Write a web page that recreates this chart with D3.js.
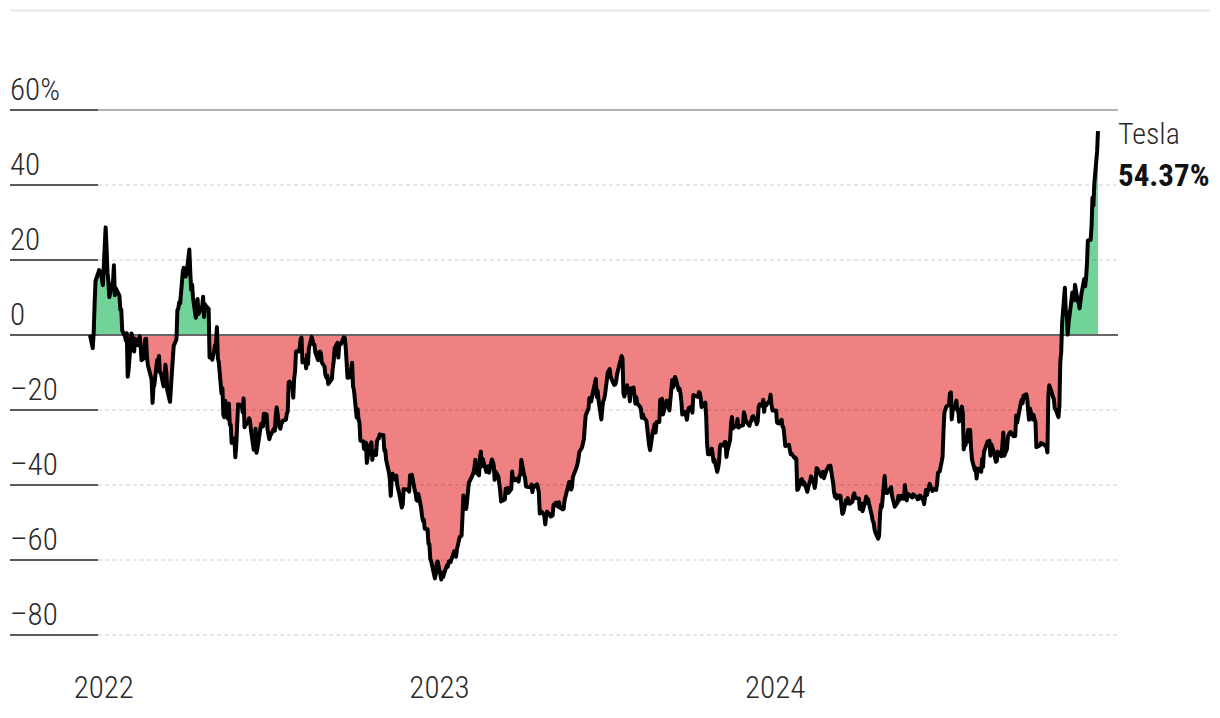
<!DOCTYPE html>
<html>
<head>
<meta charset="utf-8">
<script src="https://cdn.jsdelivr.net/npm/d3@7"></script>
<style>
  body { margin: 0; background: #fff; }
  svg text { font-family: "Liberation Sans Narrow", "Roboto Condensed", "DejaVu Sans Condensed", sans-serif; }
</style>
</head>
<body>
<div id="chart"></div>
<script>
// Tesla share price, % change since 17 Dec 2021 ([MM-DD, %])
const y2021 = [["12-17",0],["12-20",-3.5],["12-21",0.6],["12-22",8.2],["12-23",14.4],["12-27",17.3],["12-28",16.7],["12-29",16.5],["12-30",14.8],["12-31",13.3]];

const y2022 = [
  ["01-03",28.7],["01-04",23.3],["01-05",16.7],["01-06",14.2],["01-07",10.1],["01-10",13.5],["01-11",14.1],["01-12",18.6],["01-13",10.6],["01-14",12.5],["01-18",10.5],["01-19",6.8],["01-20",6.8],["01-21",1.2],["01-24",-0.3],["01-25",-1.5],["01-26",0.5],["01-27",-11.1],["01-28",-9.2],["01-31",0.4],
  ["02-01",-0.1],["02-02",-2.9],["02-03",-4.4],["02-04",-1.0],["02-07",-2.7],["02-08",-1.6],["02-09",-0.3],["02-10",-2.6],["02-11",-6.7],["02-14",-6.1],["02-15",-1.1],["02-16",-1.0],["02-17",-6.0],["02-18",-8.1],["02-22",-11.9],["02-23",-18.1],["02-24",-14.1],["02-25",-13.2],["02-28",-6.7],
  ["03-01",-7.3],["03-02",-5.6],["03-03",-10.0],["03-04",-10.1],["03-07",-13.7],["03-08",-11.6],["03-09",-7.9],["03-10",-9.9],["03-11",-14.7],["03-14",-17.8],["03-15",-14.0],["03-16",-10.1],["03-17",-6.5],["03-18",-2.9],["03-21",-1.2],["03-22",6.6],["03-23",7.1],["03-24",8.7],["03-25",8.4],["03-28",17.1],["03-29",17.9],["03-30",17.3],["03-31",15.6],
  ["04-01",16.3],["04-04",22.8],["04-05",17.0],["04-06",12.1],["04-07",13.4],["04-08",10.0],["04-11",4.6],["04-12",5.8],["04-13",9.6],["04-14",5.6],["04-18",7.7],["04-19",10.2],["04-20",4.8],["04-21",8.2],["04-22",7.8],["04-25",7.0],["04-26",-6.0],["04-27",-5.5],["04-28",-5.9],["04-29",-6.6],
  ["05-02",-2.7],["05-03",-2.3],["05-04",2.1],["05-05",-6.2],["05-06",-7.2],["05-09",-15.6],["05-10",-14.2],["05-11",-21.3],["05-12",-21.9],["05-13",-17.5],["05-16",-22.3],["05-17",-18.3],["05-18",-23.9],["05-19",-23.9],["05-20",-28.8],["05-23",-27.6],["05-24",-32.6],["05-25",-29.4],["05-26",-24.1],["05-27",-18.5],["05-31",-18.7],
  ["06-01",-20.6],["06-02",-16.9],["06-03",-24.6],["06-06",-23.3],["06-07",-23.2],["06-08",-22.2],["06-09",-22.9],["06-10",-25.3],["06-13",-30.6],["06-14",-28.9],["06-15",-25.0],["06-16",-31.4],["06-17",-30.3],["06-21",-23.7],["06-22",-24.1],["06-23",-24.4],["06-24",-21.0],["06-27",-21.2],["06-28",-25.2],["06-29",-26.5],["06-30",-27.8],
  ["07-01",-26.9],["07-05",-25.0],["07-06",-25.5],["07-07",-21.3],["07-08",-19.3],["07-11",-24.6],["07-12",-25.0],["07-13",-23.7],["07-14",-23.3],["07-15",-22.8],["07-18",-22.6],["07-19",-21.0],["07-20",-20.4],["07-21",-12.6],["07-22",-12.4],["07-25",-13.6],["07-26",-16.7],["07-27",-11.6],["07-28",-9.6],["07-29",-4.4],
  ["08-01",-4.4],["08-02",-3.3],["08-03",-1.1],["08-04",-0.7],["08-05",-7.3],["08-08",-6.6],["08-09",-8.9],["08-10",-5.3],["08-11",-7.8],["08-12",-3.5],["08-15",-0.5],["08-16",-1.4],["08-17",-2.5],["08-18",-2.5],["08-19",-4.6],["08-22",-6.7],["08-23",-4.6],["08-24",-4.4],["08-25",-4.8],["08-26",-7.3],["08-29",-8.4],["08-30",-10.7],["08-31",-11.3],
  ["09-01",-10.8],["09-02",-13.1],["09-06",-11.7],["09-07",-8.7],["09-08",-6.9],["09-09",-3.6],["09-12",-2.1],["09-13",-6.0],["09-14",-2.7],["09-15",-2.3],["09-16",-2.4],["09-19",-0.6],["09-20",-0.7],["09-21",-3.2],["09-22",-7.2],["09-23",-11.4],["09-26",-11.2],["09-27",-9.0],["09-28",-7.4],["09-29",-13.7],["09-30",-14.7],
  ["10-03",-22.0],["10-04",-19.8],["10-05",-22.5],["10-06",-23.4],["10-07",-28.2],["10-10",-28.3],["10-11",-30.4],["10-12",-30.1],["10-13",-28.7],["10-14",-34.1],["10-17",-29.4],["10-18",-29.2],["10-19",-28.6],["10-20",-33.3],["10-21",-31.0],["10-24",-32.0],["10-25",-28.4],["10-26",-27.7],["10-27",-27.6],["10-28",-26.5],["10-31",-26.8],
  ["11-01",-26.7],["11-02",-30.8],["11-03",-30.7],["11-04",-33.3],["11-07",-36.6],["11-08",-38.5],["11-09",-42.9],["11-10",-38.6],["11-11",-37.0],["11-14",-38.6],["11-15",-37.5],["11-16",-39.9],["11-17",-41.1],["11-18",-42.0],["11-21",-46.0],["11-22",-45.3],["11-23",-41.1],["11-25",-41.2],["11-28",-41.2],["11-29",-41.8],["11-30",-37.4],
  ["12-01",-37.4],["12-02",-37.3],["12-05",-41.3],["12-06",-42.2],["12-07",-44.0],["12-08",-44.2],["12-09",-42.4],["12-12",-46.0],["12-13",-48.2],["12-14",-49.6],["12-15",-49.3],["12-16",-51.7],["12-19",-51.8],["12-20",-55.7],["12-21",-55.7],["12-22",-59.7],["12-23",-60.4],["12-27",-64.9],["12-28",-63.7],["12-29",-60.8],["12-30",-60.4]
];

const y2023 = [
  ["01-03",-65.2],["01-04",-63.4],["01-05",-64.5],["01-06",-63.6],["01-09",-61.5],["01-10",-61.8],["01-11",-60.4],["01-12",-60.3],["01-13",-60.6],["01-17",-57.7],["01-18",-58.6],["01-19",-59.1],["01-20",-57.1],["01-23",-53.8],["01-24",-53.7],["01-25",-53.5],["01-26",-48.4],["01-27",-42.8],["01-30",-46.4],["01-31",-44.3],
  ["02-01",-41.6],["02-02",-39.4],["02-03",-38.9],["02-06",-37.3],["02-07",-36.7],["02-08",-35.2],["02-09",-33.3],["02-10",-36.7],["02-13",-37.4],["02-14",-32.7],["02-15",-31.1],["02-16",-35.0],["02-17",-33.0],["02-21",-36.5],["02-22",-35.4],["02-23",-35.0],["02-24",-36.7],["02-27",-33.2],["02-28",-33.8],
  ["03-01",-34.8],["03-02",-38.6],["03-03",-36.4],["03-06",-37.7],["03-07",-39.6],["03-08",-41.5],["03-09",-44.4],["03-10",-44.2],["03-13",-43.9],["03-14",-41.0],["03-15",-42.0],["03-16",-40.8],["03-17",-42.1],["03-20",-41.1],["03-21",-36.4],["03-22",-38.5],["03-23",-38.2],["03-24",-38.7],["03-27",-38.3],["03-28",-39.1],["03-29",-37.6],["03-30",-37.2],["03-31",-33.3],
  ["04-03",-37.3],["04-04",-38.0],["04-05",-40.3],["04-06",-40.5],["04-10",-40.6],["04-11",-39.9],["04-12",-41.9],["04-13",-40.2],["04-14",-40.5],["04-17",-39.8],["04-18",-40.7],["04-19",-41.9],["04-20",-47.6],["04-21",-46.9],["04-24",-47.7],["04-25",-48.3],["04-26",-50.5],["04-27",-48.5],["04-28",-47.1],
  ["05-01",-47.9],["05-02",-48.4],["05-03",-48.3],["05-04",-48.1],["05-05",-45.3],["05-08",-44.7],["05-09",-45.6],["05-10",-45.8],["05-11",-44.6],["05-12",-46.0],["05-15",-46.5],["05-16",-46.4],["05-17",-44.1],["05-18",-43.1],["05-19",-42.1],["05-22",-39.2],["05-23",-40.2],["05-24",-41.2],["05-25",-40.7],["05-26",-37.9],["05-30",-35.3],["05-31",-34.4],
  ["06-01",-33.2],["06-02",-31.2],["06-05",-30.0],["06-06",-28.8],["06-07",-27.8],["06-08",-24.4],["06-09",-21.4],["06-12",-19.6],["06-13",-16.8],["06-14",-17.4],["06-15",-17.7],["06-16",-16.2],["06-20",-11.7],["06-21",-16.5],["06-22",-14.9],["06-23",-17.5],["06-26",-22.5],["06-27",-19.5],["06-28",-17.6],["06-29",-17.2],["06-30",-15.8],
  ["07-03",-10.0],["07-05",-9.1],["07-06",-11.0],["07-07",-11.7],["07-10",-13.3],["07-11",-13.2],["07-12",-12.5],["07-13",-10.6],["07-14",-9.5],["07-17",-6.6],["07-18",-5.6],["07-19",-6.3],["07-20",-15.4],["07-21",-16.4],["07-24",-13.4],["07-25",-14.7],["07-26",-15.0],["07-27",-17.7],["07-28",-14.3],["07-31",-14.0],
  ["08-01",-16.0],["08-02",-18.3],["08-03",-16.6],["08-04",-18.3],["08-07",-19.1],["08-08",-19.7],["08-09",-22.1],["08-10",-21.1],["08-11",-21.9],["08-14",-22.9],["08-15",-25.1],["08-16",-27.4],["08-17",-29.5],["08-18",-30.7],["08-21",-25.6],["08-22",-25.0],["08-23",-23.8],["08-24",-26.0],["08-25",-23.2],["08-28",-23.2],["08-29",-17.3],["08-30",-17.4],["08-31",-17.0],
  ["09-01",-21.2],["09-05",-17.5],["09-06",-19.0],["09-07",-19.1],["09-08",-20.1],["09-11",-12.0],["09-12",-14.0],["09-13",-12.7],["09-14",-11.2],["09-15",-11.7],["09-18",-14.7],["09-19",-14.3],["09-20",-15.5],["09-21",-17.7],["09-22",-21.2],["09-25",-20.5],["09-26",-21.5],["09-27",-22.6],["09-28",-20.7],["09-29",-19.5],
  ["10-02",-19.1],["10-03",-20.7],["10-04",-16.0],["10-05",-16.3],["10-06",-16.2],["10-09",-16.5],["10-10",-15.2],["10-11",-15.4],["10-12",-16.7],["10-13",-19.2],["10-16",-18.3],["10-17",-18.0],["10-18",-21.9],["10-19",-29.2],["10-20",-31.8],["10-23",-31.8],["10-24",-30.3],["10-25",-31.7],["10-26",-33.8],["10-27",-33.3],["10-30",-36.5],["10-31",-35.4],
  ["11-01",-33.8],["11-02",-29.7],["11-03",-29.2],["11-06",-29.5],["11-07",-28.5],["11-08",-28.5],["11-09",-32.5],["11-10",-30.9],["11-13",-28.0],["11-14",-23.6],["11-15",-21.9],["11-16",-24.9],["11-17",-24.6],["11-20",-24.2],["11-21",-22.4],["11-22",-24.7],["11-24",-24.3],["11-27",-24.1],["11-28",-20.6],["11-29",-21.5],["11-30",-22.8],
  ["12-01",-23.2],["12-04",-24.2],["12-05",-23.2],["12-06",-23.0],["12-07",-21.9],["12-08",-21.6],["12-11",-22.9],["12-12",-23.8],["12-13",-23.0],["12-14",-19.2],["12-15",-18.5],["12-18",-18.9],["12-19",-17.3],["12-20",-20.5],["12-21",-18.1],["12-22",-18.8],["12-26",-17.5],["12-27",-15.9],["12-28",-18.6],["12-29",-20.1]
];

const y2024 = [
  ["01-02",-20.1],["01-03",-23.3],["01-04",-23.5],["01-05",-23.6],["01-08",-22.6],["01-09",-24.4],["01-10",-24.7],["01-11",-26.9],["01-12",-29.6],["01-16",-29.3],["01-17",-30.7],["01-18",-31.8],["01-19",-31.7],["01-22",-32.8],["01-23",-32.7],["01-24",-33.1],["01-25",-41.3],["01-26",-41.1],["01-29",-38.6],["01-30",-38.4],["01-31",-39.8],
  ["02-01",-39.2],["02-02",-39.6],["02-05",-41.8],["02-06",-40.5],["02-07",-39.7],["02-08",-39.0],["02-09",-37.7],["02-12",-39.5],["02-13",-40.8],["02-14",-39.3],["02-15",-35.5],["02-16",-35.7],["02-20",-37.7],["02-21",-37.3],["02-22",-36.5],["02-23",-38.2],["02-26",-35.9],["02-27",-35.7],["02-28",-35.0],["02-29",-35.1],
  ["03-01",-34.8],["03-04",-39.5],["03-05",-41.9],["03-06",-43.2],["03-07",-42.5],["03-08",-43.6],["03-11",-42.8],["03-12",-42.9],["03-13",-45.5],["03-14",-47.7],["03-15",-47.4],["03-18",-44.1],["03-19",-44.9],["03-20",-43.5],["03-21",-44.4],["03-22",-45.0],["03-25",-44.5],["03-26",-42.8],["03-27",-42.2],["03-28",-43.5],
  ["04-01",-43.6],["04-02",-46.4],["04-03",-45.8],["04-04",-45.0],["04-05",-47.0],["04-08",-44.4],["04-09",-43.1],["04-10",-44.7],["04-11",-43.8],["04-12",-45.0],["04-15",-48.1],["04-16",-49.5],["04-17",-50.0],["04-18",-51.8],["04-19",-52.7],["04-22",-54.3],["04-23",-53.5],["04-24",-47.8],["04-25",-45.3],["04-26",-45.9],["04-29",-37.6],["04-30",-41.0],
  ["05-01",-42.1],["05-02",-42.1],["05-03",-41.7],["05-06",-40.6],["05-07",-42.8],["05-08",-43.8],["05-09",-44.7],["05-10",-45.8],["05-13",-44.7],["05-14",-42.9],["05-15",-44.0],["05-16",-43.8],["05-17",-42.9],["05-20",-43.7],["05-21",-40.0],["05-22",-42.1],["05-23",-44.1],["05-24",-42.3],["05-28",-43.1],["05-29",-43.3],["05-30",-42.5],["05-31",-42.7],
  ["06-03",-43.3],["06-04",-43.8],["06-05",-43.7],["06-06",-42.8],["06-07",-42.9],["06-10",-44.1],["06-11",-45.1],["06-12",-43.0],["06-13",-41.3],["06-14",-42.7],["06-17",-39.7],["06-18",-40.5],["06-20",-41.6],["06-21",-41.1],["06-24",-41.3],["06-25",-39.7],["06-26",-36.8],["06-27",-36.5],["06-28",-36.3],
  ["07-01",-32.5],["07-02",-25.6],["07-03",-20.7],["07-05",-19.1],["07-08",-18.6],["07-09",-15.6],["07-10",-15.3],["07-11",-22.5],["07-12",-20.1],["07-15",-18.7],["07-16",-17.5],["07-17",-20.1],["07-18",-19.8],["07-19",-23.1],["07-22",-19.1],["07-23",-20.7],["07-24",-30.5],["07-25",-29.1],["07-26",-29.3],["07-29",-25.3],["07-30",-28.4],["07-31",-25.3],
  ["08-01",-30.2],["08-02",-33.2],["08-05",-36.0],["08-06",-35.5],["08-07",-38.3],["08-08",-36.0],["08-09",-35.7],["08-12",-36.5],["08-13",-33.1],["08-14",-35.2],["08-15",-31.1],["08-16",-30.5],["08-19",-28.4],["08-20",-28.9],["08-21",-28.2],["08-22",-32.2],["08-23",-29.1],["08-26",-31.4],["08-27",-32.7],["08-28",-33.8],["08-29",-33.6],["08-30",-31.1],
  ["09-03",-32.3],["09-04",-29.4],["09-05",-26.0],["09-06",-32.2],["09-09",-30.4],["09-10",-27.2],["09-11",-26.6],["09-12",-26.1],["09-13",-25.9],["09-16",-27.0],["09-17",-26.7],["09-18",-26.9],["09-19",-21.5],["09-20",-23.4],["09-23",-19.6],["09-24",-18.2],["09-25",-17.3],["09-26",-18.2],["09-27",-16.2],["09-30",-15.8],
  ["10-01",-17.0],["10-02",-19.9],["10-03",-22.6],["10-04",-19.6],["10-07",-22.5],["10-08",-21.3],["10-09",-22.5],["10-10",-23.2],["10-11",-29.9],["10-14",-29.5],["10-15",-29.4],["10-16",-28.8],["10-17",-28.9],["10-18",-29.0],["10-21",-29.6],["10-22",-29.9],["10-23",-31.3],["10-24",-16.2],["10-25",-13.4],["10-28",-15.6],["10-29",-16.5],["10-30",-17.1],["10-31",-19.6],
  ["11-01",-19.9],["11-04",-21.9],["11-05",-19.1],["11-06",-7.2],["11-07",-4.5],["11-08",3.3],["11-11",12.6],["11-12",5.7],["11-13",6.2],["11-14",0.1],["11-15",3.2],["11-18",9.0],["11-19",11.3],["11-20",10.0],["11-21",9.3],["11-22",13.4],["11-25",8.9],["11-26",8.8],["11-27",7.1],["11-29",11.0],
  ["12-02",14.9],["12-03",13.0],["12-04",15.1],["12-05",18.9],["12-06",25.2],["12-09",25.4],["12-10",29.0],["12-11",36.6],["12-12",34.5],["12-13",40.3],["12-16",48.9],["12-17",54.37]
];

const yTicks = [60, 40, 20, 0, -20, -40, -60, -80];
const yearTicks = ["2022", "2023", "2024"];
const seriesName = "Tesla";
const lastLabel = "54.37%";
const startDate = "2021-12-17";
const endDate = "2024-12-17";

const w = 1220;
const h = 718;
const labelX = 10;
const plotL = 98;
const plotR = 1118;

const parse = d3.timeParse("%Y-%m-%d");
const data = []
  .concat(y2021.map(r => ({ date: parse("2021-" + r[0]), v: r[1] })))
  .concat(y2022.map(r => ({ date: parse("2022-" + r[0]), v: r[1] })))
  .concat(y2023.map(r => ({ date: parse("2023-" + r[0]), v: r[1] })))
  .concat(y2024.map(r => ({ date: parse("2024-" + r[0]), v: r[1] })));

const x = d3.scaleTime()
  .domain([parse(startDate), parse(endDate)])
  .range([90, 1098]);

const y = d3.scaleLinear()
  .domain([-80, 60])
  .range([635, 110]);

const svg = d3.select("#chart")
  .append("svg")
  .attr("width", w)
  .attr("height", h);

// thin rule at the very top
svg.append("line")
  .attr("x1", 10).attr("x2", 1210)
  .attr("y1", 10.5).attr("y2", 10.5)
  .attr("stroke", "#e6e6e6")
  .attr("stroke-width", 2);

// clip above / below the zero line
const defs = svg.append("defs");
defs.append("clipPath").attr("id", "above")
  .append("rect").attr("x", 0).attr("y", 0).attr("width", w).attr("height", y(0));
defs.append("clipPath").attr("id", "below")
  .append("rect").attr("x", 0).attr("y", y(0)).attr("width", w).attr("height", h - y(0));

const area = d3.area()
  .x(d => x(d.date))
  .y0(y(0))
  .y1(d => y(d.v));

svg.append("path")
  .datum(data)
  .attr("d", area)
  .attr("fill", "#71d398")
  .attr("clip-path", "url(#above)");

svg.append("path")
  .datum(data)
  .attr("d", area)
  .attr("fill", "#f08182")
  .attr("clip-path", "url(#below)");

// gridlines + labels
const grid = svg.selectAll(".grid")
  .data(yTicks)
  .enter()
  .append("g")
  .attr("class", "grid");

grid.append("line")
  .attr("x1", labelX).attr("x2", plotL)
  .attr("y1", d => y(d)).attr("y2", d => y(d))
  .attr("stroke", "#5a5a5a")
  .attr("stroke-width", 2);

grid.append("line")
  .attr("x1", plotL).attr("x2", plotR)
  .attr("y1", d => y(d)).attr("y2", d => y(d))
  .attr("stroke", d => (d === 60 || d === 0) ? "#666" : "rgba(0,0,0,0.13)")
  .attr("stroke-width", d => d === 0 ? 2 : (d === 60 ? 1.2 : 1.5))
  .attr("stroke-dasharray", d => (d === 60 || d === 0) ? null : "4,3");

grid.append("text")
  .attr("x", labelX)
  .attr("y", d => y(d) - 10)
  .attr("font-size", 31)
  .attr("font-weight", 300)
  .attr("fill", "#2a2a2a")
  .text(d => d === 60 ? "60%" : (d < 0 ? "\u2013" + Math.abs(d) : d));

// year labels
svg.selectAll(".year")
  .data(yearTicks)
  .enter()
  .append("text")
  .attr("class", "year")
  .attr("x", d => x(parse(d + "-01-01")))
  .attr("y", 698)
  .attr("text-anchor", "middle")
  .attr("font-size", 31)
  .attr("font-weight", 300)
  .attr("fill", "#2a2a2a")
  .text(d => d);

// the line
const line = d3.line()
  .x(d => x(d.date))
  .y(d => y(d.v));

svg.append("path")
  .datum(data)
  .attr("d", line)
  .attr("fill", "none")
  .attr("stroke", "#000")
  .attr("stroke-width", 4)
  .attr("stroke-linejoin", "round");

// end label
svg.append("text")
  .attr("x", plotR)
  .attr("y", 144)
  .attr("font-size", 30)
  .attr("font-weight", 300)
  .attr("fill", "#2a2a2a")
  .text(seriesName);

svg.append("text")
  .attr("x", plotR)
  .attr("y", 186)
  .attr("font-size", 31)
  .attr("font-weight", "bold")
  .attr("fill", "#111")
  .text(lastLabel);
</script>
</body>
</html>
